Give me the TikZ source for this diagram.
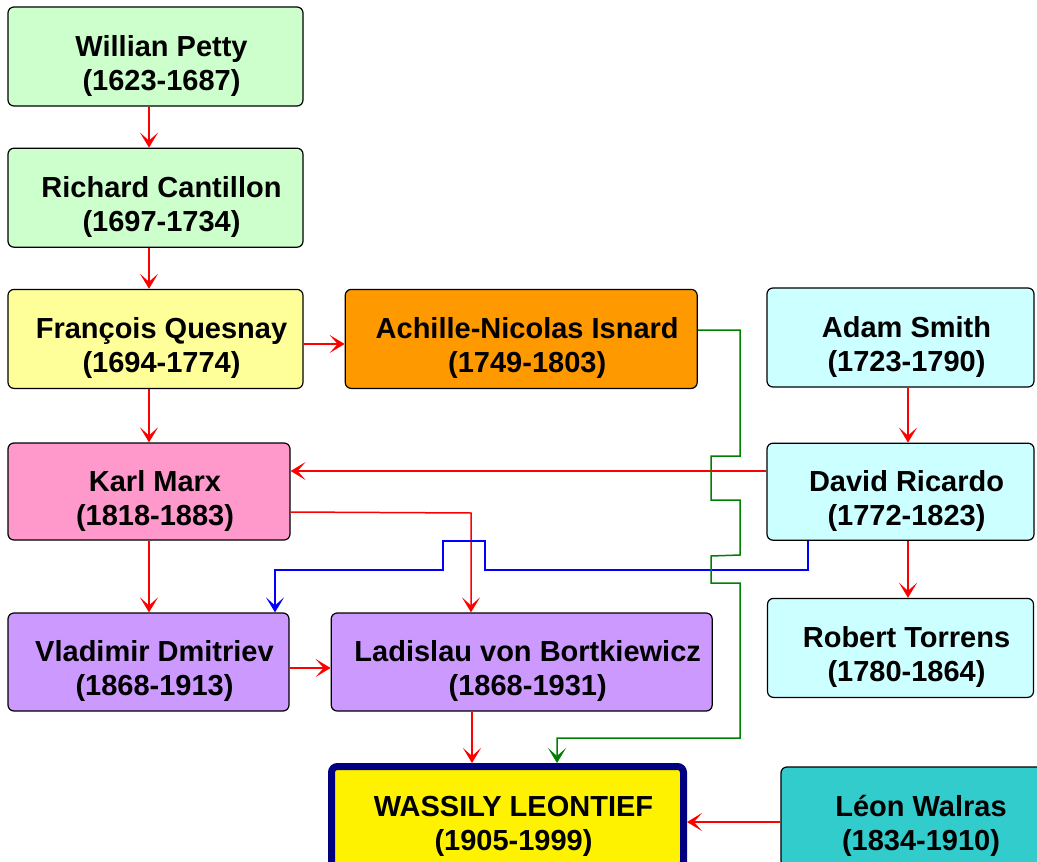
\documentclass[tikz,border=0pt]{standalone}
\usepackage{fontspec}
\setmainfont{Liberation Sans}
\usetikzlibrary{positioning,arrows.meta}

\definecolor{paleGreen}{HTML}{CCFFCC}
\definecolor{paleYellow}{HTML}{FFFF99}
\definecolor{isnardOrange}{HTML}{FF9900}
\definecolor{paleCyan}{HTML}{CCFFFF}
\definecolor{marxPink}{HTML}{FF99CC}
\definecolor{lavender}{HTML}{CC99FF}
\definecolor{walrasTeal}{HTML}{33CCCC}
\definecolor{leontiefNavy}{HTML}{000080}
\definecolor{linkRed}{HTML}{FF0000}
\definecolor{linkBlue}{HTML}{0000FF}
\definecolor{linkGreen}{HTML}{008000}

% name and years, set a little right of and below the box centre
\newcommand{\who}[2]{\hspace*{12pt}\raisebox{-10pt}[\height][\depth]{\begin{tabular}{@{}c@{}}#1\\#2\end{tabular}}}

\begin{document}
\begin{tikzpicture}[
x=1pt, y=-1pt,
personnode/.style={rectangle, draw=black, line width=1.2pt, rounded corners=6pt, inner sep=0pt, font=\bfseries\fontsize{29}{34}\selectfont},
finalnode/.style={personnode, draw=leontiefNavy, line width=7pt, fill=yellow},
redarrow/.style={draw=linkRed, line width=1.5pt, -{Stealth[length=15pt,width=18pt,inset=8pt]}},
bluearrow/.style={redarrow, draw=linkBlue},
greenarrow/.style={redarrow, draw=linkGreen},
]
\useasboundingbox (0,0) rectangle (1037,862);

% Nodes
\node[personnode, fill=paleGreen, minimum width=295pt, minimum height=99pt] (petty) at (155.5,56.5) {\who{Willian Petty}{(1623-1687)}};
\node[personnode, fill=paleGreen, minimum width=295pt, minimum height=99pt] (cantillon) [below=41pt of petty] {\who{Richard Cantillon}{(1697-1734)}};
\node[personnode, fill=paleYellow, minimum width=295pt, minimum height=99pt] (quesnay) [below=41pt of cantillon] {\who{François Quesnay}{(1694-1774)}};
\node[personnode, fill=isnardOrange, minimum width=352pt, minimum height=99pt] (isnard) [right=41pt of quesnay] {\who{Achille-Nicolas Isnard}{(1749-1803)}};
\node[personnode, fill=paleCyan, minimum width=267pt, minimum height=99pt] (smith) at (900.5,337.5) {\who{Adam Smith}{(1723-1790)}};
\node[personnode, fill=paleCyan, minimum width=267pt, minimum height=97pt] (ricardo) [below=55pt of smith] {\who{David Ricardo}{(1772-1823)}};
\node[personnode, fill=paleCyan, minimum width=266pt, minimum height=99pt] (torrens) [below=57pt of ricardo] {\who{Robert Torrens}{(1780-1864)}};
\node[personnode, fill=marxPink, minimum width=282pt, minimum height=97pt] (marx) at (149,491.5) {\who{Karl Marx}{(1818-1883)}};
\node[personnode, fill=lavender, minimum width=281pt, minimum height=98pt] (dmitriev) at (148.5,662) {\who{Vladimir Dmitriev}{(1868-1913)}};
\node[personnode, fill=lavender, minimum width=381pt, minimum height=98pt] (bortkiewicz) [right=41pt of dmitriev] {\who{Ladislau von Bortkiewicz}{(1868-1931)}};
\node[finalnode, minimum width=352pt, minimum height=101pt] (leontief) at (507.5,817) {\who{WASSILY LEONTIEF}{(1905-1999)}};
\node[personnode, fill=walrasTeal, minimum width=268pt, minimum height=100pt] (walras) at (915,817) {\who{Léon Walras}{(1834-1910)}};

% Arrows
\draw[redarrow] (149,0 |- petty.south) -- (149,0 |- cantillon.north);
\draw[redarrow] (149,0 |- cantillon.south) -- (149,0 |- quesnay.north);
\draw[redarrow] (quesnay.east |- 0,344) -- (isnard.west |- 0,344);
\draw[redarrow] (149,0 |- quesnay.south) -- (149,0 |- marx.north);
\draw[redarrow] (908,0 |- smith.south) -- (908,0 |- ricardo.north);
\draw[redarrow] (ricardo.west |- 0,471) -- (marx.east |- 0,471);
\draw[redarrow] (908,0 |- ricardo.south) -- (908,0 |- torrens.north);
\draw[redarrow] (marx.south) -- (marx.south |- dmitriev.north);
\draw[redarrow] (marx.east |- 0,512) -- (471,513) -- (471,0 |- bortkiewicz.north);
\draw[redarrow] (dmitriev.east |- 0,668) -- (bortkiewicz.west |- 0,668);
\draw[redarrow] (472,0 |- bortkiewicz.south) -- (472,0 |- leontief.north);
\draw[redarrow] (walras.west |- 0,822) -- (leontief.east |- 0,822);
\draw[bluearrow] (808,0 |- ricardo.south) -- (808,570) -- (485,570) -- (485,541) -- (443,541) -- (443,570) -- (275,570) -- (275,0 |- dmitriev.north);
\draw[greenarrow] (isnard.east |- 0,330) -- (740,330) -- (740,456) -- (711,456) -- (711,500) -- (740,500) -- (740,555) -- (711,556) -- (711,583) -- (740,583) -- (740,738) -- (557,738) -- (557,0 |- leontief.north);

\end{tikzpicture}
\end{document}
